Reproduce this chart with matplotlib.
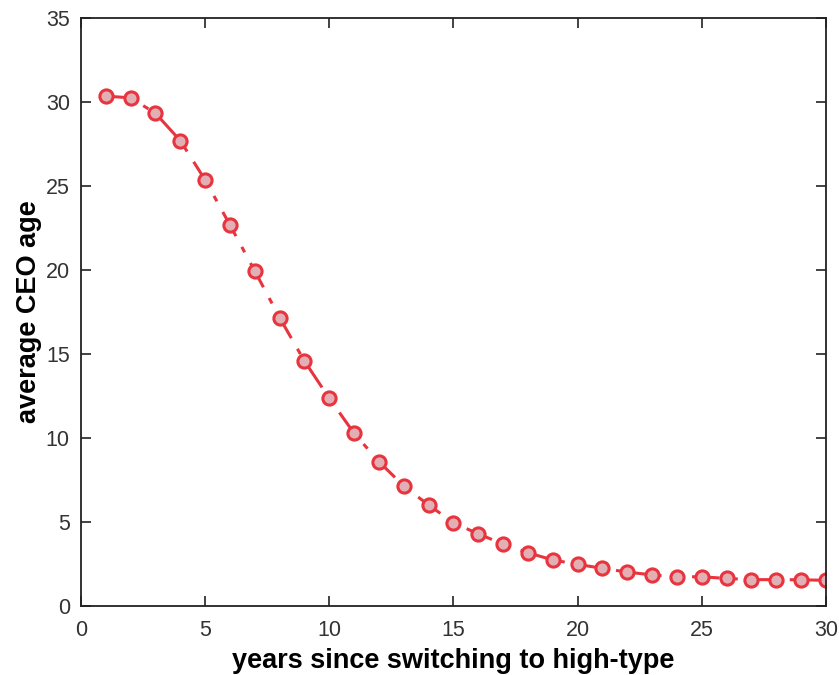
import matplotlib
matplotlib.use("Agg")
import matplotlib.pyplot as plt

years = list(range(1, 31))
avg_age = [30.35, 30.25, 29.33, 27.70, 25.36, 22.68, 19.94, 17.16, 14.58, 12.36,
           10.28, 8.59, 7.14, 6.01, 4.96, 4.29, 3.69, 3.17, 2.74, 2.48,
           2.24, 2.02, 1.85, 1.74, 1.74, 1.64, 1.57, 1.57, 1.56, 1.53]
xticks = [0, 5, 10, 15, 20, 25, 30]
yticks = [0, 5, 10, 15, 20, 25, 30, 35]

plt.rcParams['font.family'] = ['Liberation Sans', 'DejaVu Sans']

fig = plt.figure(figsize=(8.39, 6.75), dpi=100)
ax = fig.add_axes([0.0965, 0.1022, 0.888, 0.8711])

ax.plot(years, avg_age, linestyle='-.', color='#e8343e', linewidth=2.2,
        marker='o', markersize=9.5, markerfacecolor='#e2b0b4',
        markeredgecolor='#e8343e', markeredgewidth=2.2, dashes=(9, 4, 2, 4))

ax.set_xlim(0, 30)
ax.set_ylim(0, 35)
ax.set_xticks(xticks)
ax.set_yticks(yticks)
ax.tick_params(direction='in', top=True, right=True, length=7, width=1.2,
               labelsize=15.5, colors='#222222')
ax.tick_params(axis='x', pad=10)
ax.tick_params(axis='y', pad=8)
for lab in ax.get_xticklabels() + ax.get_yticklabels():
    lab.set_color('#333333')
for s in ax.spines.values():
    s.set_linewidth(1.3)
    s.set_color('#222222')

ax.set_xlabel('years since switching to high-type', fontsize=19.5, fontweight='bold', labelpad=5)
ax.set_ylabel('average CEO age', fontsize=19.5, fontweight='bold', labelpad=3)

fig.savefig('out.png', dpi=100)
